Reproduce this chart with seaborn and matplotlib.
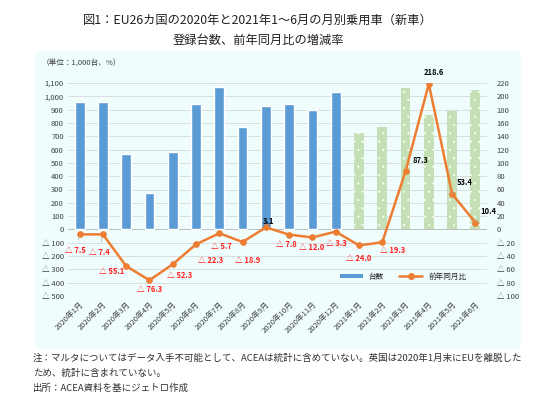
import numpy as np
import pandas as pd
import matplotlib
matplotlib.use("Agg")
import matplotlib.pyplot as plt
from matplotlib.patches import Rectangle, Patch
from matplotlib.lines import Line2D
import seaborn as sns

sns.set_style("white")
plt.rcParams['font.family'] = ['Noto Sans CJK JP', 'DejaVu Sans']
plt.rcParams['hatch.color'] = 'white'
plt.rcParams['hatch.linewidth'] = 0.3

months = ["2020年1月", "2020年2月", "2020年3月", "2020年4月", "2020年5月", "2020年6月",
          "2020年7月", "2020年8月", "2020年9月", "2020年10月", "2020年11月", "2020年12月",
          "2021年1月", "2021年2月", "2021年3月", "2021年4月", "2021年5月", "2021年6月"]
years = ["2020"] * 12 + ["2021"] * 6
units = [955, 955, 567, 270, 580, 945, 1070, 770, 930, 945, 895, 1030,
         725, 770, 1060, 860, 890, 1045]
yoy = [-7.5, -7.4, -55.1, -76.3, -52.3, -22.3, -5.7, -18.9, 3.1, -7.8, -12.0, -3.3,
       -24.0, -19.3, 87.3, 218.6, 53.4, 10.4]
left_ticks = list(range(-500, 1101, 100))
right_ticks = list(range(-100, 221, 20))

# label offsets in pixels (dx right, dy down) relative to each point
lab_off = [(-4, 16), (-4, 18), (-15, 5), (0, 9), (7, 11), (15, 16), (2, 13), (5, 18),
           (3, -6), (-3, 10), (-1, 10), (1, 12), (0, 13), (10, 8), (15, -11),
           (5, -11), (13, -11), (13, -11)]
leader = {0, 1, 15, 16, 17}

df = pd.DataFrame({"month": months, "year": years, "units": units, "yoy": yoy})

W, H = 559, 399
fig = plt.figure(figsize=(W / 100, H / 100), dpi=100)
fig.patch.set_facecolor('white')
fig.patches.append(Rectangle((35 / W, 1 - 349 / H), (521 - 35) / W, (349 - 51) / H,
                             transform=fig.transFigure, facecolor='#EFFDFD',
                             edgecolor='none', zorder=-10))

ax = fig.add_axes([68 / W, 1 - 296 / H, (487 - 68) / W, (296 - 83) / H])
ax.set_facecolor('none')

sns.barplot(data=df, x="month", y="units", hue="year", dodge=False,
            palette={"2020": "#5B9BD5", "2021": "#C5E0B4"}, width=0.42,
            ax=ax, legend=False, saturation=1)
for p in ax.patches:
    if p.get_height() and p.get_facecolor()[1] > 0.8:
        p.set_hatch('..')
        p.set_edgecolor('white')
        p.set_linewidth(0)

ax.set_ylim(-500, 1100)
ax.set_xlim(-0.5, 17.5)
ax.set_yticks(left_ticks)
def lfmt(v):
    return "△ " + f"{-v:,}" if v < 0 else f"{v:,}"
ax.set_yticklabels([lfmt(v) for v in left_ticks], fontsize=5.5, color='#404040')
for v in left_ticks:
    ax.axhline(v, color='#D9D9D9', lw=0.6, zorder=0)
ax.axhline(0, color='#BFBFBF', lw=0.7, zorder=0)
ax.set_xticks(range(len(months)))
ax.set_xticklabels(months, rotation=45, ha='right', rotation_mode='anchor',
                   fontsize=5.5, color='#404040')
ax.tick_params(axis='both', length=0, pad=3)
ax.set_xlabel("")
ax.set_ylabel("")
for s in ax.spines.values():
    s.set_visible(False)

ax2 = ax.twinx()
sns.lineplot(x=np.arange(len(yoy)), y=yoy, ax=ax2, color='#ED7D31', lw=1.8,
             marker='o', markersize=4, markeredgecolor='#ED7D31', sort=False)
ax2.set_ylim(-100, 220)
ax2.set_yticks(right_ticks)
ax2.set_yticklabels([("△ " + str(-v)) if v < 0 else str(v) for v in right_ticks],
                    fontsize=5.5, color='#404040')
ax2.tick_params(axis='y', length=0, pad=7)
for s in ax2.spines.values():
    s.set_visible(False)

for i, v in enumerate(yoy):
    dx, dy = lab_off[i]
    txt = f"△ {-v:.1f}" if v < 0 else f"{v:.1f}"
    col = '#FF2020' if v < 0 else '#000000'
    kw = {}
    if i in leader:
        kw['arrowprops'] = dict(arrowstyle='-', color='#A6A6A6', lw=0.5,
                                shrinkA=2, shrinkB=2)
    ax2.annotate(txt, xy=(i, v), xytext=(dx, -dy), textcoords='offset pixels',
                 ha='center', va='center', fontsize=5.5, color=col,
                 fontweight='bold', annotation_clip=False, **kw)

handles = [Patch(facecolor='#5B9BD5', edgecolor='none'),
           Line2D([0], [0], color='#ED7D31', lw=1.8, marker='o', markersize=4)]
ax2.legend(handles, ["台数", "前年同月比"], loc='center', bbox_to_anchor=(0.8, 0.09),
           ncol=2, frameon=False, fontsize=5.5, handlelength=3, columnspacing=2,
           handleheight=0.5)

fig.text(258 / W, 1 - 20 / H, "図1：EU26カ国の2020年と2021年1～6月の月別乗用車（新車）",
         ha='center', va='center', fontsize=8.8, color='#202020')
fig.text(258 / W, 1 - 40 / H, "登録台数、前年同月比の増減率",
         ha='center', va='center', fontsize=8.8, color='#202020')
fig.text(42 / W, 1 - 63 / H, "（単位：1,000台、%）", ha='left', va='center',
         fontsize=5.5, color='#404040')

fig.text(33 / W, 1 - 358 / H,
         "注：マルタについてはデータ入手不可能として、ACEAは統計に含めていない。英国は2020年1月末にEUを離脱した",
         ha='left', va='center', fontsize=6.8, color='#303030')
fig.text(33 / W, 1 - 373 / H, "ため、統計に含まれていない。", ha='left', va='center',
         fontsize=6.8, color='#303030')
fig.text(33 / W, 1 - 388 / H, "出所：ACEA資料を基にジェトロ作成", ha='left', va='center',
         fontsize=6.8, color='#303030')

fig.savefig("out.png", dpi=100, facecolor='white')
